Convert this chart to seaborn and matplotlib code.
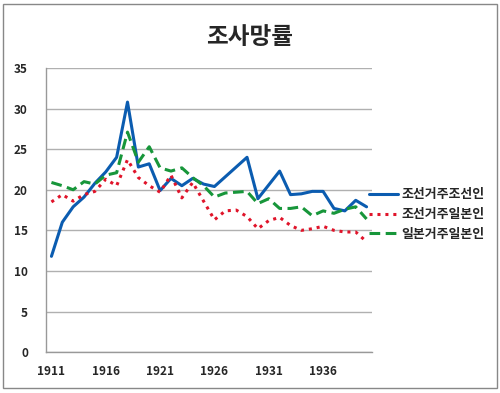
import numpy as np
import pandas as pd
import seaborn as sns
import matplotlib.pyplot as plt
from matplotlib.patches import Rectangle

years = list(range(1911, 1941))
korean_in_korea = [11.8, 16.0, 17.9, 19.1, 20.8, 22.2, 24.0, 30.8, 22.8, 23.2,
                   19.9, 21.4, 20.5, 21.4, 20.7, 20.4, 21.6, 22.8, 24.0, 18.9,
                   20.6, 22.3, 19.4, 19.5, 19.8, 19.8, 17.7, 17.4, 18.7, 17.9]
japanese_in_korea = [18.5, 19.4, 18.6, 19.4, 19.8, 21.3, 20.5, 23.7, 21.5, 20.5,
                     19.7, 21.8, 19.0, 20.9, 18.6, 16.3, 17.4, 17.5, 16.7, 15.2,
                     16.2, 16.6, 15.6, 15.0, 15.2, 15.5, 15.0, 14.8, 14.8, 13.6]
japanese_in_japan = [20.9, 20.5, 20.0, 21.0, 20.7, 21.8, 22.1, 27.1, 23.4, 25.3,
                     22.7, 22.3, 22.7, 21.5, 20.5, 19.1, 19.6, 19.7, 19.8, 18.3,
                     18.9, 17.7, 17.7, 17.9, 16.8, 17.4, 17.1, 17.6, 17.9, 16.4]
labels = ["조선거주조선인", "조선거주일본인", "일본거주일본인"]
yticks = [0, 5, 10, 15, 20, 25, 30, 35]

sns.set_style("white")
plt.rcParams['font.family'] = ['Noto Sans CJK KR', 'DejaVu Sans']

df = pd.DataFrame({"idx": np.arange(len(years)),
                   labels[0]: korean_in_korea,
                   labels[1]: japanese_in_korea,
                   labels[2]: japanese_in_japan})

fig = plt.figure(figsize=(5, 3.93), dpi=100)
ax = fig.add_axes([0.092, 0.104, 0.652, 0.723])

sns.lineplot(data=df, x="idx", y=labels[0], ax=ax, color="#0b5cb0", lw=2.2, label=labels[0])
sns.lineplot(data=df, x="idx", y=labels[1], ax=ax, color="#e0142a", lw=2.2,
             linestyle=(0, (1, 1.6)), label=labels[1])
sns.lineplot(data=df, x="idx", y=labels[2], ax=ax, color="#17963a", lw=2.2,
             linestyle=(0, (3.5, 1.8)), label=labels[2])

ax.set_xlim(-0.5, len(years) - 0.5)
ax.set_ylim(0, 35)
ax.set_yticks(yticks)
ax.set_yticklabels([str(v) for v in yticks], fontsize=8.5, fontweight="bold")
ax.set_xticks(np.arange(0, len(years), 5))
ax.set_xticklabels([str(years[i]) for i in range(0, len(years), 5)],
                   fontsize=8.5, fontweight="bold")
ax.set_xticks(np.arange(-0.5, len(years), 1), minor=True)
ax.tick_params(axis="x", which="major", length=0, pad=9)
ax.tick_params(axis="x", which="minor", length=3, color="#999999", direction="out")
ax.tick_params(axis="y", length=3, color="#999999", direction="out", pad=10)
ax.set_xlabel("")
ax.set_ylabel("")
ax.grid(axis="y", color="#b0b0b0", lw=1)
for s in ["top", "right"]:
    ax.spines[s].set_visible(False)
for s in ["left", "bottom"]:
    ax.spines[s].set_color("#999999")
    ax.spines[s].set_linewidth(1)

ax.legend(loc="center left", bbox_to_anchor=(0.728, 0.455), bbox_transform=fig.transFigure,
          frameon=False, prop={"size": 9.3, "weight": "bold"}, handlelength=2.2,
          handletextpad=0.3, labelspacing=0.45, borderaxespad=0)

fig.text(0.5, 0.905, "조사망률", ha="center", va="center", fontsize=17, fontweight="bold")
fig.patches.append(Rectangle((0.006, 0.012), 0.988, 0.978, transform=fig.transFigure,
                             fill=False, edgecolor="#888888", lw=1))

fig.savefig("out.png", dpi=100)
